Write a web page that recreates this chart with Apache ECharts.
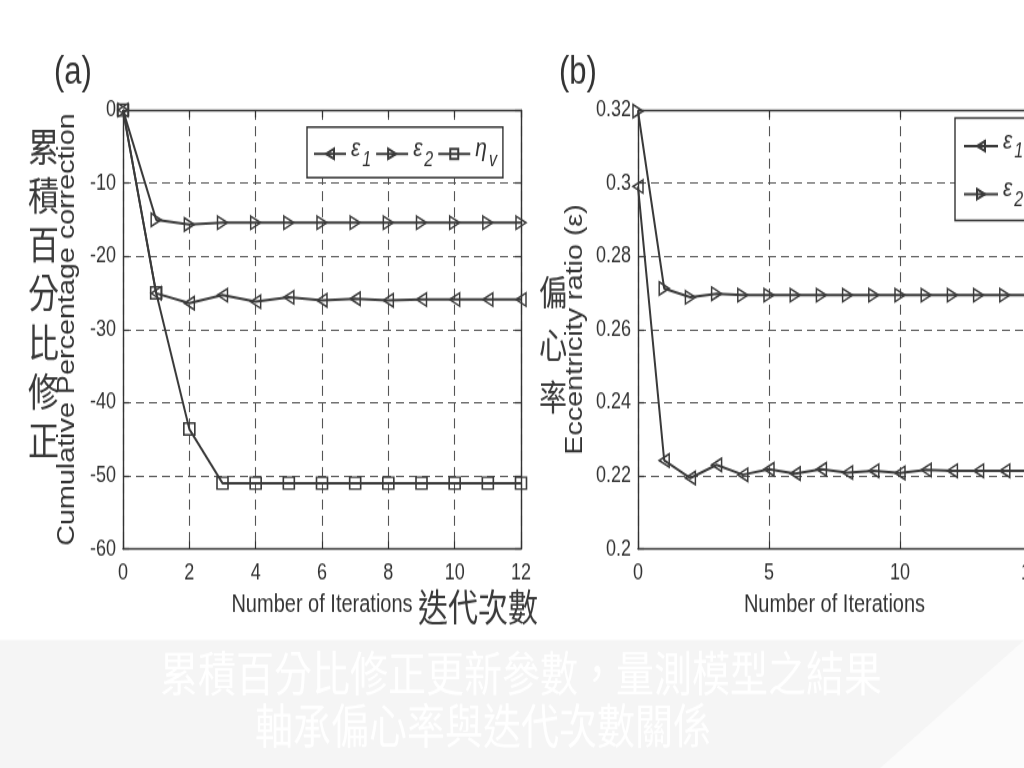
<!DOCTYPE html>
<html><head><meta charset="utf-8">
<script src="https://cdn.jsdelivr.net/npm/echarts@6/dist/echarts.min.js"></script>
<style>
html,body{margin:0;padding:0;background:#fff;overflow:hidden}
#wrap{width:1024px;height:768px;overflow:hidden;position:relative}
#c{width:1024px;height:615px;transform-origin:0 0;transform:scaleY(1.24878)}
</style>
</head><body><div id="wrap"><div id="c"></div></div>
<script>
// ---- data (a) ----
const itersA = [0,1,2,3,4,5,6,7,8,9,10,11,12];
const aEps1 = [0,-25.05,-26.4,-25.3,-26.2,-25.6,-26.0,-25.8,-26.0,-25.9,-25.9,-25.9,-25.9];
const aEps2 = [0,-15.0,-15.65,-15.4,-15.4,-15.4,-15.4,-15.4,-15.4,-15.4,-15.4,-15.4,-15.4];
const aEta  = [0,-25.0,-43.6,-51.0,-51.0,-51.0,-51.0,-51.0,-51.0,-51.0,-51.0,-51.0,-51.0];
// ---- data (b) ----
const itersB = [0,1,2,3,4,5,6,7,8,9,10,11,12,13,14,15];
const bEps1 = [0.2991,0.2242,0.2194,0.2230,0.2203,0.2218,0.2206,0.2218,0.2209,0.2214,0.2208,0.2216,0.2214,0.2214,0.2214,0.2214];
const bEps2 = [0.3197,0.2712,0.2688,0.2698,0.2694,0.2694,0.2694,0.2694,0.2694,0.2694,0.2694,0.2694,0.2694,0.2694,0.2694,0.2694];
const namesA = ['ε1','ε2','ηv'];
const namesB = ['ε1','ε2'];

const FW = '"Liberation Sans", Arial, sans-serif';
const CJK = '"Noto Sans CJK TC", sans-serif';
const INK = '#333';
const LINE = '#3a3a3a';
const LEFT_TRI = 'path://M10,0 L0,6 L10,12 Z';
const RIGHT_TRI = 'path://M0,0 L10,6 L0,12 Z';

function ser(name, xs, ys, symbol, size, gi) {
  return {
    name, type: 'line', xAxisIndex: gi, yAxisIndex: gi,
    data: xs.map((x, i) => [x, ys[i]]),
    symbol, symbolSize: size, showAllSymbol: true,
    lineStyle: { color: LINE, width: 2 },
    itemStyle: { color: 'rgba(255,255,255,0)', borderColor: LINE, borderWidth: 1.5 },
    emphasis: { disabled: true }, animation: false
  };
}
const axLine = { show: true, onZero: false, lineStyle: { color: INK, width: 1.4 } };
const tick = { show: true, inside: true, length: 6, lineStyle: { color: INK, width: 1.2 } };
const split = { show: true, lineStyle: { type: [8, 5], color: '#555', width: 1.1 } };
const lab = { fontSize: 18, color: INK, fontFamily: FW };

function xMain(gi, max, interval) {
  return { gridIndex: gi, type: 'value', min: 0, max, interval, axisLine: axLine, axisTick: tick,
    axisLabel: Object.assign({ margin: 10 }, lab), splitLine: split,
    name: 'Number of Iterations', nameLocation: 'middle', nameGap: 35,
    nameTextStyle: { fontSize: 20, fontFamily: FW, color: INK } };
}
function xTop(gi, max, interval) {
  return { gridIndex: gi, type: 'value', position: 'top', min: 0, max, interval, axisLine: axLine,
    axisTick: tick, axisLabel: { show: false }, splitLine: { show: false } };
}
function yMain(gi, min, max, interval, name, gap) {
  return { gridIndex: gi, type: 'value', min, max, interval, axisLine: axLine, axisTick: tick,
    axisLabel: Object.assign({ margin: 7 }, lab), splitLine: split,
    name, nameLocation: 'middle', nameGap: gap,
    nameTextStyle: { fontSize: 23, fontFamily: FW, color: INK } };
}
function yRight(gi, min, max, interval) {
  return { gridIndex: gi, type: 'value', position: 'right', min, max, interval, axisLine: axLine,
    axisTick: tick, axisLabel: { show: false }, splitLine: { show: false } };
}
const rich = {
  g: { fontSize: 21, fontStyle: 'italic', fontFamily: FW, color: INK, padding: [0, 0, 8, 0] },
  s: { fontSize: 16, fontStyle: 'italic', fontFamily: FW, color: INK, padding: [10, 0, 0, 2] }
};
const fmt = n => '{g|' + n[0] + '}{s|' + n.slice(1) + '}';

const chart = echarts.init(document.getElementById('c'), null, { renderer: 'canvas' });
chart.setOption({
  animation: false,
  backgroundColor: '#ffffff',
  grid: [
    { left: 123, top: 88.1, width: 398, height: 351.5, outerBoundsMode: 'none', containLabel: false },
    { left: 638, top: 88.1, width: 393, height: 351.5, outerBoundsMode: 'none', containLabel: false }
  ],
  xAxis: [xMain(0, 12, 2), xMain(1, 15, 5), xTop(0, 12, 2), xTop(1, 15, 5)],
  yAxis: [
    yMain(0, -60, 0, 10, 'Cumulative Percentage correction', 44),
    yMain(1, 0.2, 0.32, 0.02, 'Eccentricity ratio (ε)', 51),
    yRight(0, -60, 0, 10), yRight(1, 0.2, 0.32, 0.02)
  ],
  legend: [
    { data: namesA, left: 307, top: 101.7, orient: 'horizontal', itemWidth: 32, itemHeight: 10, itemGap: 4,
      padding: [7, 6, 6, 6], borderColor: INK, borderWidth: 1.4, backgroundColor: '#fff',
      formatter: fmt, textStyle: { rich }, selectedMode: false },
    { data: namesB, left: 955, top: 94.5, orient: 'vertical', itemWidth: 34, itemHeight: 10, itemGap: 11,
      padding: [8, 8, 8, 8], borderColor: INK, borderWidth: 1.4, backgroundColor: '#fff',
      formatter: fmt, textStyle: { rich }, selectedMode: false }
  ],
  series: [
    ser(namesA[0], itersA, aEps1, LEFT_TRI, [10, 10.5], 0),
    ser(namesA[1], itersA, aEps2, RIGHT_TRI, [10, 10.5], 0),
    ser(namesA[2], itersA, aEta, 'rect', [11, 9.5], 0),
    ser(namesB[0], itersB, bEps1, LEFT_TRI, [10, 10.5], 1),
    ser(namesB[1], itersB, bEps2, RIGHT_TRI, [10, 10.5], 1)
  ],
  graphic: [
    { type: 'rect', z: -10, shape: { x: 0, y: 512.5, width: 1024, height: 110 }, style: { fill: '#f5f5f5' } },
    { type: 'polygon', z: -9, shape: { points: [[880, 615], [1024, 512.5], [1024, 615]] }, style: { fill: '#fbfbfb' } },
    { type: 'text', left: 54, top: 43, style: { text: '(a)', fontSize: 31, fontFamily: FW, fill: INK } },
    { type: 'text', left: 559, top: 43, style: { text: '(b)', fontSize: 31, fontFamily: FW, fill: INK } },
    { type: 'text', left: 28, top: 97.5, style: { text: '累\n積\n百\n分\n比\n修\n正', fontSize: 31, lineHeight: 39.2, fontFamily: CJK, fill: '#3a3a3a' } },
    { type: 'text', left: 539, top: 214, style: { text: '偏\n心\n率', fontSize: 28, lineHeight: 41.6, fontFamily: CJK, fill: '#3a3a3a' } },
    { type: 'text', left: 418, top: 471, style: { text: '迭代次數', fontSize: 30, fontFamily: CJK, fill: '#3a3a3a' } },
    { type: 'text', left: 160, top: 520, style: { text: '累積百分比修正更新參數，量測模型之結果', fontSize: 38, fontFamily: CJK, fill: '#ffffff' } },
    { type: 'text', left: 255, top: 562, style: { text: '軸承偏心率與迭代次數關係', fontSize: 38, fontFamily: CJK, fill: '#ffffff' } }
  ]
});
</script></body></html>
